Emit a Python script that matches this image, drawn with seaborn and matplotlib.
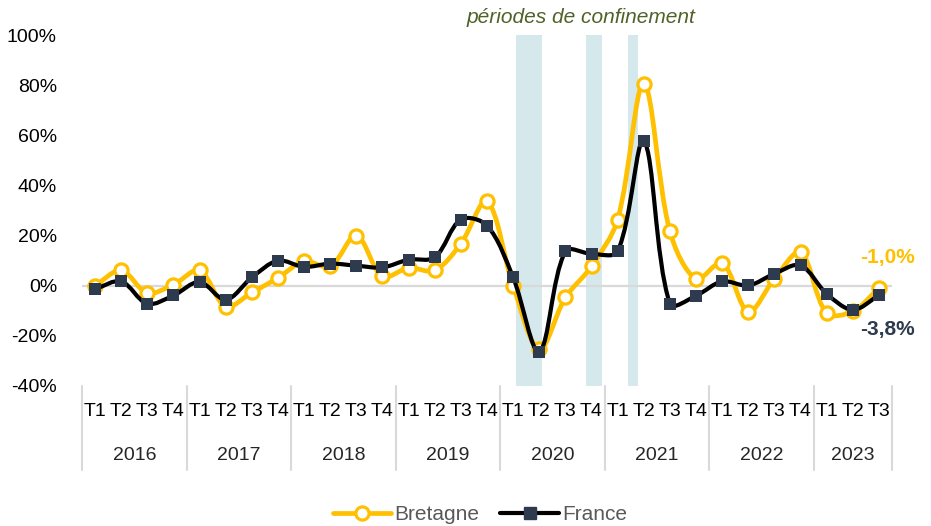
import numpy as np
import pandas as pd
import matplotlib
matplotlib.use("Agg")
import matplotlib.pyplot as plt
import matplotlib.transforms as mtransforms
from matplotlib.path import Path
from matplotlib.patches import PathPatch
from matplotlib.lines import Line2D
import seaborn as sns

# data
annees = ["2016", "2017", "2018", "2019", "2020", "2021", "2022", "2023"]
trimestres = ["T1", "T2", "T3", "T4"] * 7 + ["T1", "T2", "T3"]
bretagne = [0.0, 6.1, -2.9, 0.4, 6.1, -8.3, -2.7, 3.1,
            9.7, 7.7, 20.0, 3.7, 7.1, 6.1, 16.8, 33.7,
            0.0, -25.3, -4.7, 7.7, 26.4, 80.5, 21.7, 2.7,
            9.1, -10.3, 2.8, 13.3, -10.9, -10.2, -1.0]
france = [-1.3, 1.7, -7.2, -3.9, 1.5, -5.6, 3.3, 10.0,
          7.5, 8.8, 8.0, 7.3, 10.4, 11.3, 26.4, 24.0,
          3.3, -26.3, 13.7, 12.7, 13.7, 57.7, -7.2, -4.0,
          1.7, 0.1, 4.8, 8.1, -3.2, -9.6, -3.8]
confinements = [(16.1, 17.1), (18.77, 19.39), (20.38, 20.76)]

df = pd.DataFrame({"idx": np.arange(len(trimestres)), "Bretagne": bretagne, "France": france})

JAUNE = "#FFC000"
MARINE = "#2E3B4E"
GRIS = "#D9D9D9"

sns.set_style("white")
plt.rcParams["font.family"] = ["Liberation Sans", "DejaVu Sans"]

fig = plt.figure(figsize=(9.31, 5.26), dpi=100)
ax = fig.add_axes([82 / 931, 1 - 386 / 526, 810 / 931, 351 / 526])


def courbe_lissee(x, y, sx=26.1, sy=2.5):
    # bezier facon Excel : tangente ponderee par la longueur des segments (en pixels)
    pts = np.column_stack([np.asarray(x, float), np.asarray(y, float)])
    ech = np.array([sx, sy])
    n = len(pts)
    d = [np.hypot(*((pts[i + 1] - pts[i]) * ech)) for i in range(n - 1)]
    verts = [pts[0]]
    codes = [Path.MOVETO]
    for i in range(n - 1):
        p1, p2 = pts[i], pts[i + 1]
        if i > 0:
            t1 = (p2 - pts[i - 1]) * d[i] / (d[i - 1] + d[i]) / 3
        else:
            t1 = (p2 - p1) / 3
        if i + 2 < n:
            t2 = (pts[i + 2] - p1) * d[i] / (d[i] + d[i + 1]) / 3
        else:
            t2 = (p2 - p1) / 3
        verts += [p1 + t1, p2 - t2, p2]
        codes += [Path.CURVE4] * 3
    return Path(verts, codes)


for a, b in confinements:
    ax.axvspan(a, b, color="#D5E8EC", lw=0, zorder=0)

ax.axhline(0, color=GRIS, lw=1.6, zorder=1)

ax.add_patch(PathPatch(courbe_lissee(df["idx"], df["Bretagne"]), fill=False,
                       edgecolor=JAUNE, lw=3.4, zorder=3, capstyle="round"))
sns.lineplot(data=df, x="idx", y="Bretagne", ax=ax, lw=0, marker="o", markersize=9.5,
             markerfacecolor="white", markeredgecolor=JAUNE, markeredgewidth=2.3, zorder=4)
ax.add_patch(PathPatch(courbe_lissee(df["idx"], df["France"]), fill=False,
                       edgecolor="black", lw=3.0, zorder=5, capstyle="round"))
sns.lineplot(data=df, x="idx", y="France", ax=ax, lw=0, marker="s", markersize=8.5,
             markerfacecolor=MARINE, markeredgecolor=MARINE, markeredgewidth=0, zorder=6)

ax.set_xlim(-0.5, len(trimestres) - 0.5)
ax.set_ylim(-40, 100)
ax.set_yticks(range(-40, 101, 20))
ax.set_yticklabels([f"{v}%" for v in range(-40, 101, 20)], fontsize=14)
ax.set_xticks(df["idx"])
ax.set_xticklabels(trimestres, fontsize=14)
ax.tick_params(axis="both", length=0, colors="black")
ax.tick_params(axis="y", pad=18)
ax.tick_params(axis="x", pad=12)
ax.set_xlabel("")
ax.set_ylabel("")
for s in ax.spines.values():
    s.set_visible(False)

# annees + separateurs
trans = mtransforms.blended_transform_factory(ax.transData, ax.transAxes)
debut = 0
for an in annees:
    nb = 4 if an != "2023" else 3
    ax.text(debut + (nb - 1) / 2, -0.197, an, transform=trans, ha="center", va="center", fontsize=14)
    ax.add_line(Line2D([debut - 0.5, debut - 0.5], [0, -0.24], transform=trans,
                       color=GRIS, lw=1.5, clip_on=False))
    debut += nb
ax.add_line(Line2D([debut - 0.5, debut - 0.5], [0, -0.24], transform=trans,
                   color=GRIS, lw=1.5, clip_on=False))

ax.text(18.6, 1.05, "périodes de confinement", transform=trans, ha="center", va="center",
        fontsize=15, style="italic", color="#4F6228")

# etiquettes de fin
ax.annotate("-1,0%", xy=(30, bretagne[-1]), xytext=(36, 31), textcoords="offset pixels",
            ha="right", va="center", fontsize=15, fontweight="bold", color=JAUNE,
            annotation_clip=False)
ax.annotate("-3,8%", xy=(30, france[-1]), xytext=(36, -34), textcoords="offset pixels",
            ha="right", va="center", fontsize=15, fontweight="bold", color=MARINE,
            annotation_clip=False)

handles = [
    Line2D([], [], color=JAUNE, lw=3.4, marker="o", markersize=9.5, markerfacecolor="white",
           markeredgecolor=JAUNE, markeredgewidth=2.3),
    Line2D([], [], color="black", lw=3.0, marker="s", markersize=8.5, markerfacecolor=MARINE,
           markeredgecolor=MARINE),
]
fig.legend(handles, ["Bretagne", "France"], loc="center", bbox_to_anchor=(480 / 931, 1 - 515 / 526),
           ncol=2, frameon=False, fontsize=15, labelcolor="#595959", handlelength=2.8,
           handletextpad=0.15, columnspacing=1.0)

fig.savefig("out.png", dpi=100)
